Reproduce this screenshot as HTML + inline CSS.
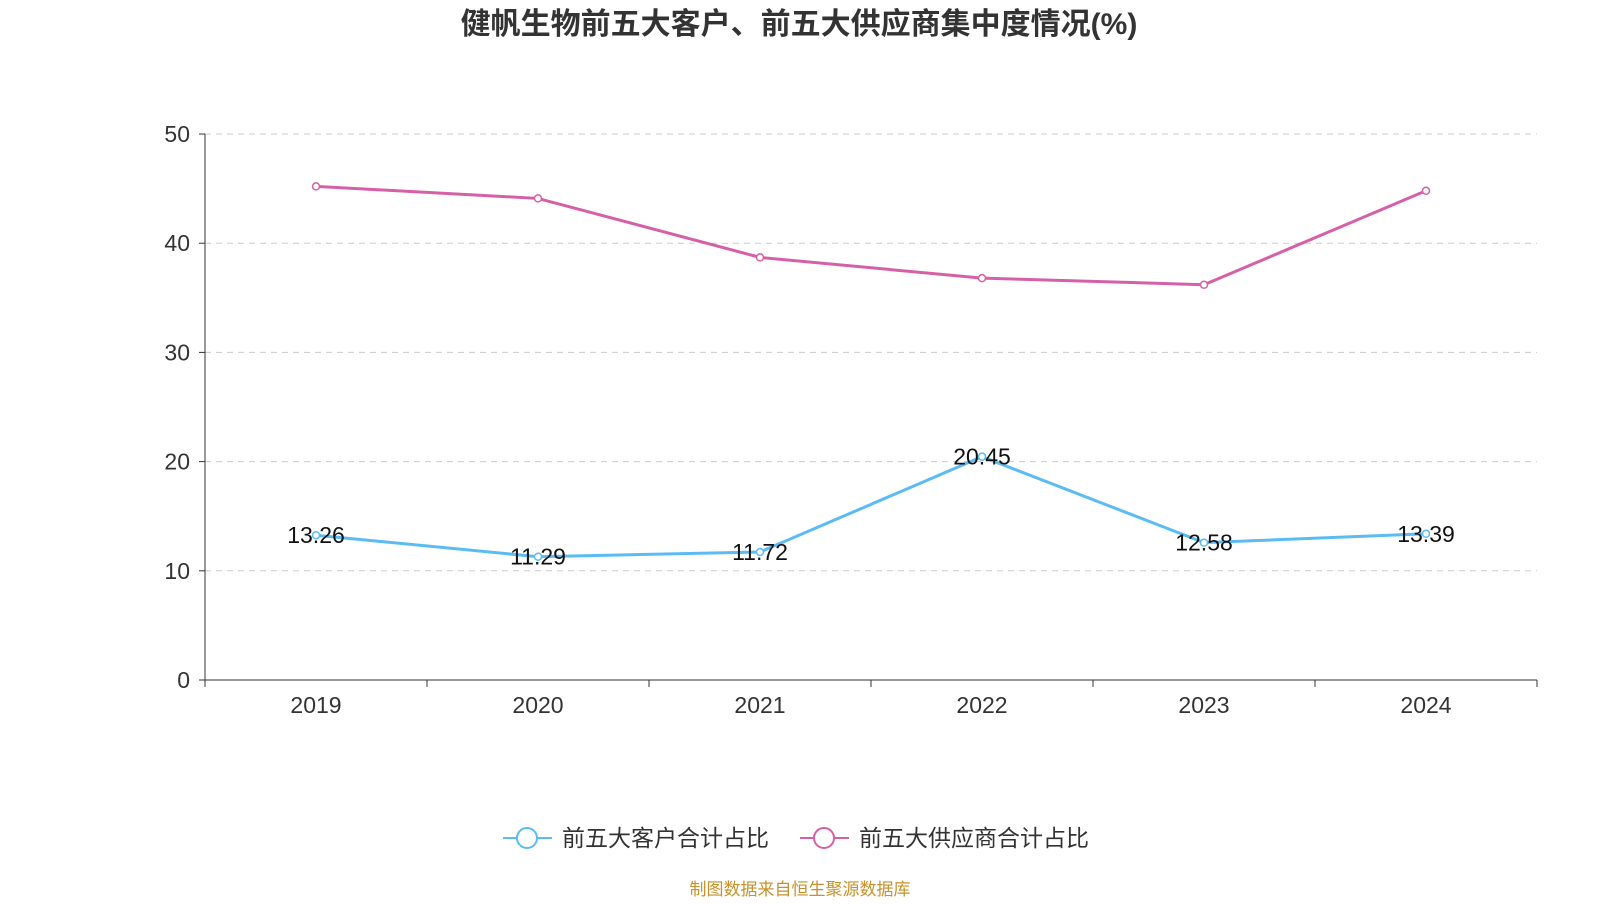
<!DOCTYPE html>
<html><head><meta charset="utf-8"><style>
body{margin:0;background:#fff;font-family:"Liberation Sans","Noto Sans CJK SC",sans-serif;}
</style></head><body>
<svg width="1600" height="900" xmlns="http://www.w3.org/2000/svg" id="c">
<text x="799" y="34" text-anchor="middle" font-size="30" font-weight="bold" fill="#333" font-family="Liberation Sans, Noto Sans CJK SC, sans-serif">健帆生物前五大客户、前五大供应商集中度情况(%)</text>
<g id="grid"></g><g id="axes"></g><g id="series"></g>
<g font-family="Liberation Sans, Noto Sans CJK SC, sans-serif" font-size="23" fill="#333">
<g><line x1="503" y1="838" x2="552" y2="838" stroke="#5bbcf4" stroke-width="2"/><circle cx="527" cy="838" r="10" fill="#fff" stroke="#5bbcf4" stroke-width="2"/><text x="562" y="846">前五大客户合计占比</text></g>
<g><line x1="800" y1="838" x2="849" y2="838" stroke="#d660a8" stroke-width="2"/><circle cx="824" cy="838" r="10" fill="#fff" stroke="#d660a8" stroke-width="2"/><text x="859" y="846">前五大供应商合计占比</text></g>
</g>
<text x="800" y="895" text-anchor="middle" font-size="17" fill="#c8912a" font-family="Liberation Sans, Noto Sans CJK SC, sans-serif">制图数据来自恒生聚源数据库</text>
</svg>
<script>
const categories=['2019','2020','2021','2022','2023','2024'];
const customers=[13.26,11.29,11.72,20.45,12.58,13.39];
const suppliers=[45.2,44.1,38.7,36.8,36.2,44.8];
const yTicks=[0,10,20,30,40,50];
const NS='http://www.w3.org/2000/svg';
const X0=205,X1=1537,Y0=680,Y1=134;
const bw=(X1-X0)/categories.length;
const x=i=>X0+bw*(i+0.5);
const y=v=>Y0-(v/50)*(Y0-Y1);
function mk(tag,attrs,parent){const e=document.createElementNS(NS,tag);for(const k in attrs)e.setAttribute(k,attrs[k]);document.getElementById(parent).appendChild(e);return e;}
yTicks.forEach(t=>{
 if(t>0){const g=mk('line',{x1:X0,x2:X1,y1:y(t),y2:y(t),stroke:'#ccc','stroke-dasharray':'6,5'},'grid');
 
 }
 const tk=mk('line',{x1:X0-6,x2:X0,y1:y(t),y2:y(t),stroke:'#333'},'axes');
 
 
 const l=mk('text',{x:X0-15,y:y(t)+8,'text-anchor':'end','font-size':'23',fill:'#333'},'axes');l.textContent=t;
 
 
});
const ya=mk('line',{x1:X0,x2:X0,y1:Y1,y2:Y0,stroke:'#333'},'axes');


const xa=mk('line',{x1:X0,x2:X1,y1:Y0,y2:Y0,stroke:'#333'},'axes');


for(let i=0;i<=categories.length;i++){const t=mk('line',{x1:X0+bw*i,x2:X0+bw*i,y1:Y0,y2:Y0+7,stroke:'#333'},'axes');
 
 }
categories.forEach((c,i)=>{const l=mk('text',{x:x(i),y:Y0+33,'text-anchor':'middle','font-size':'23',fill:'#333'},'axes');l.textContent=c;
 
 });
function series(vals,color,name,labels){
 const p=mk('polyline',{points:vals.map((v,i)=>x(i)+','+y(v)).join(' '),fill:'none',stroke:color,'stroke-width':3},'series');
 
 
 vals.forEach((v,i)=>{const c=mk('circle',{cx:x(i),cy:y(v),r:3.5,fill:'#fff',stroke:color,'stroke-width':1.5},'series');
  
  
  if(labels){const t=mk('text',{x:x(i),y:y(v)+8,'text-anchor':'middle','font-size':'23',fill:'#111'},'series');t.textContent=v.toFixed(2);
  
  }});
}
series(suppliers,'#d660a8','suppliers',false);
series(customers,'#5bbcf4','customers',true);
</script>
</body></html>
